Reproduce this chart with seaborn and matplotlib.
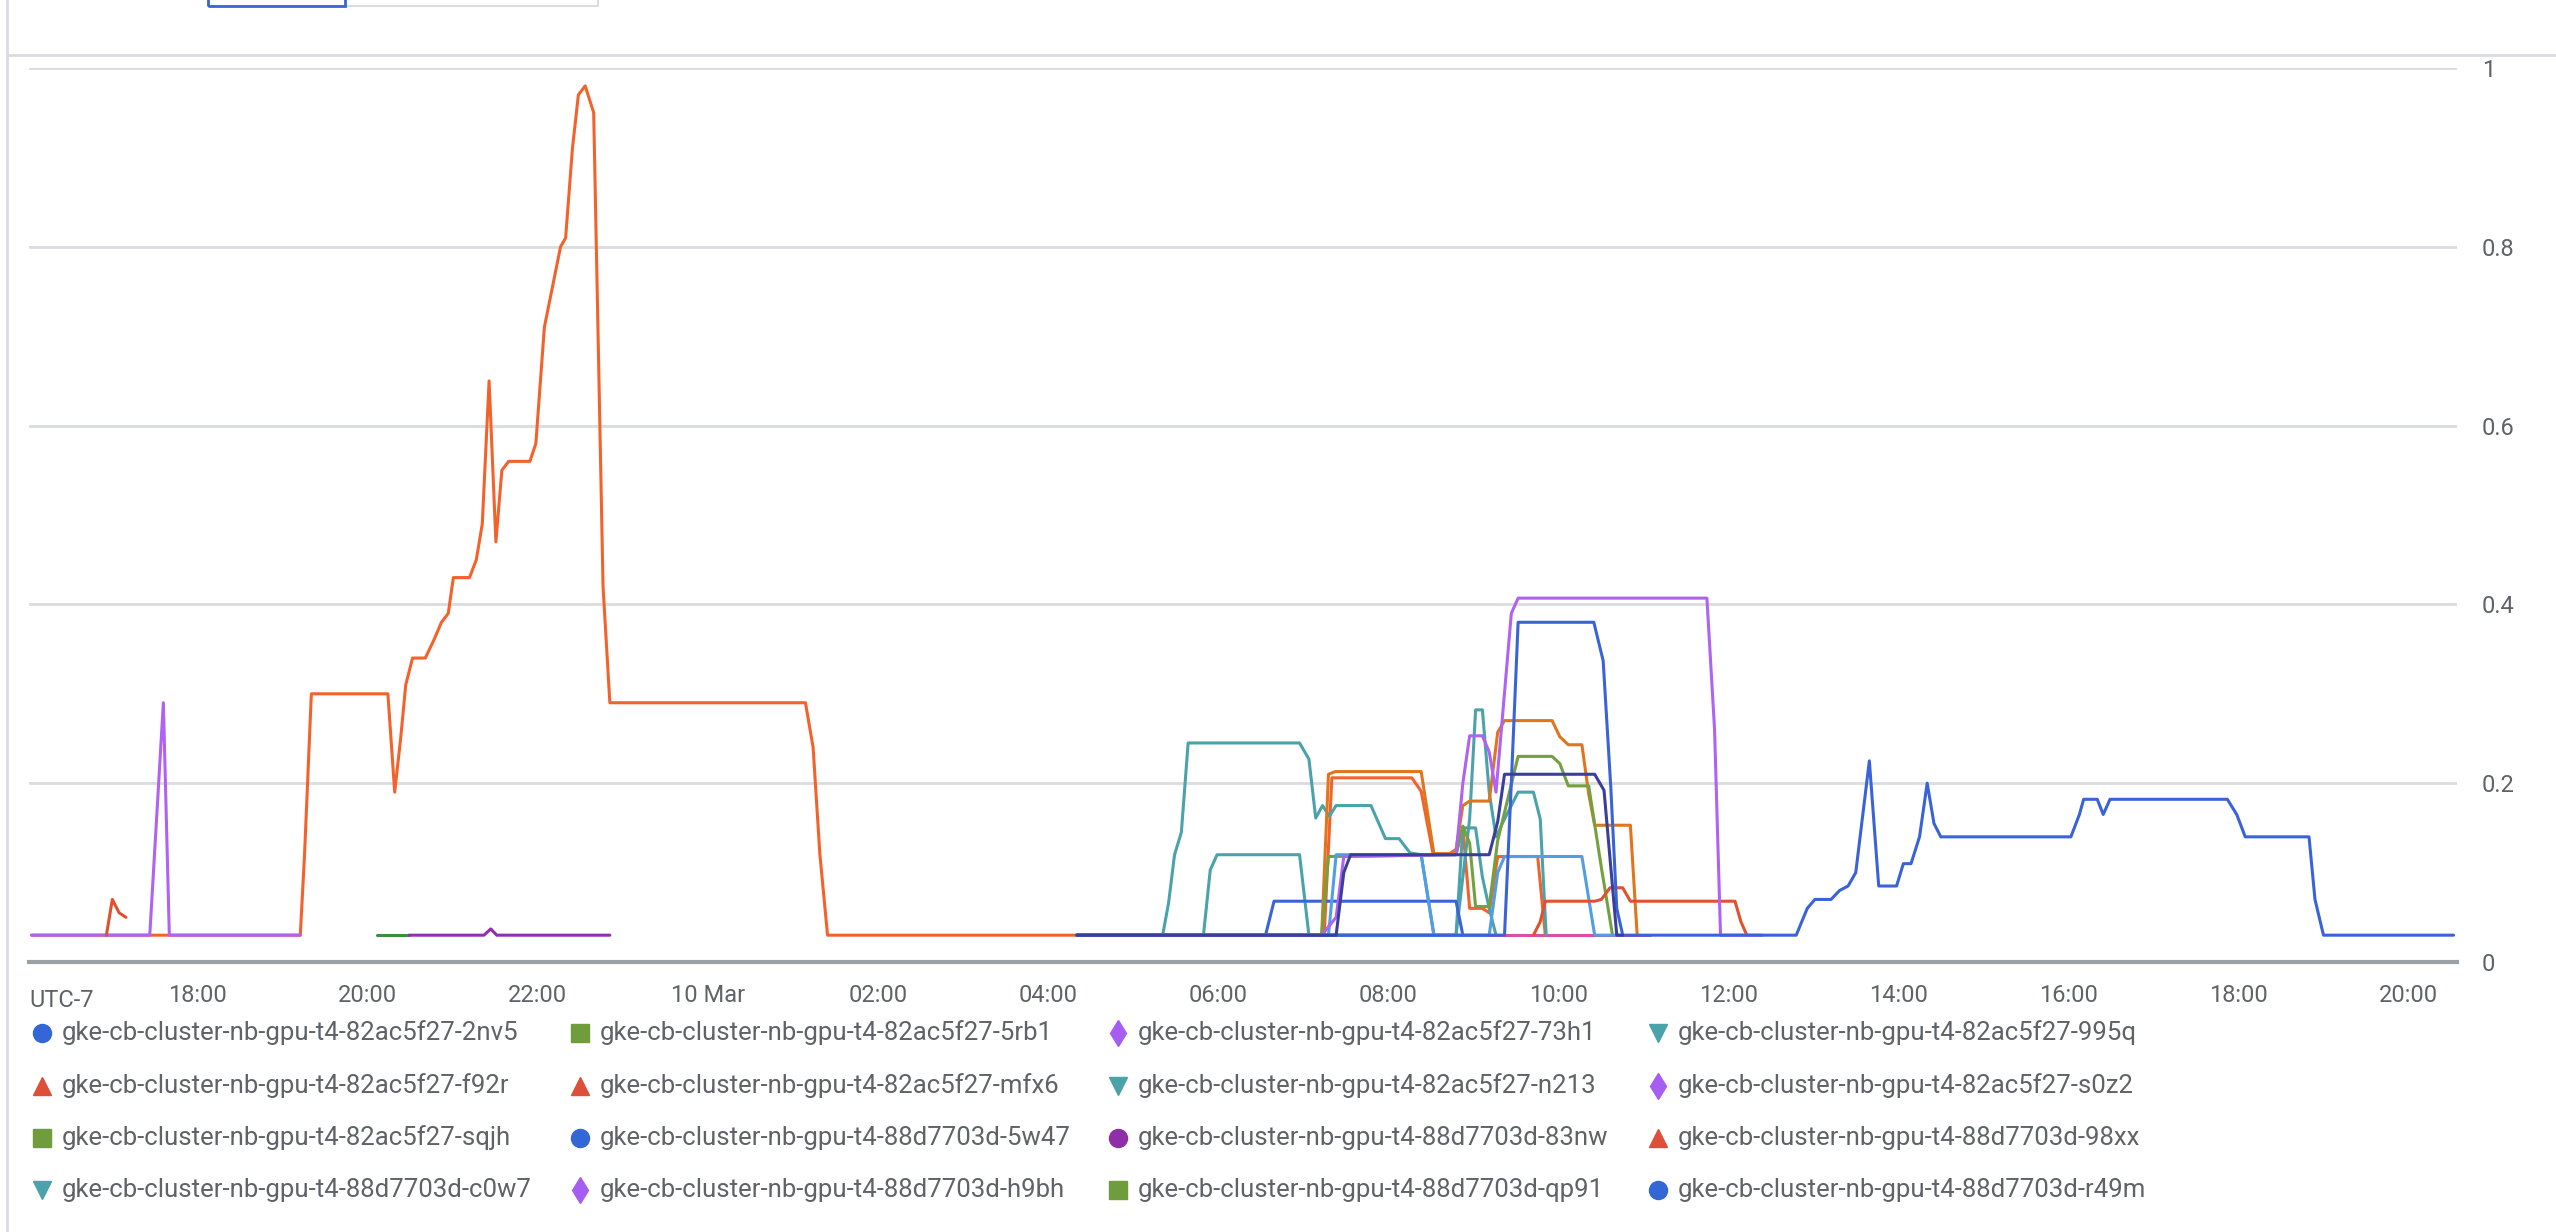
import pandas as pd
import numpy as np
import matplotlib
matplotlib.use("Agg")
import matplotlib.pyplot as plt
from matplotlib.lines import Line2D
from matplotlib.patches import Rectangle
import seaborn as sns

base = pd.Timestamp("2024-03-09")

# hours since 9 Mar 00:00 and utilisation values, per node
f92r_h = [16.05, 19.21, 19.26, 19.34, 20.24, 20.32, 20.39, 20.45, 20.53, 20.68, 20.78, 20.87, 20.95, 21.01,
          21.20, 21.28, 21.35, 21.43, 21.51, 21.58, 21.66, 21.91, 21.98, 22.08, 22.27, 22.33, 22.41, 22.48,
          22.56, 22.66, 22.77, 22.85, 25.15, 25.24, 25.32, 25.41, 28.34,
          31.25, 31.34, 32.28, 32.39, 32.53, 32.80, 32.88, 32.96, 33.11, 33.19, 33.29, 33.76, 33.85]
f92r_v = [0.03, 0.03, 0.12, 0.30, 0.30, 0.19, 0.25, 0.31, 0.34, 0.34, 0.36, 0.38, 0.39, 0.43,
          0.43, 0.45, 0.49, 0.65, 0.47, 0.55, 0.56, 0.56, 0.58, 0.71, 0.80, 0.81, 0.91, 0.97,
          0.98, 0.95, 0.42, 0.29, 0.29, 0.24, 0.12, 0.03, 0.03,
          0.03, 0.206, 0.206, 0.191, 0.121, 0.121, 0.15, 0.06, 0.06, 0.055, 0.118, 0.118, 0.03]

mfx6_early_h = [16.93, 17.00, 17.08, 17.16]
mfx6_early_v = [0.03, 0.07, 0.055, 0.05]
mfx6_h = [31.22, 31.30, 31.38, 32.39, 32.54, 32.72, 32.80, 32.88, 32.96, 33.19, 33.29, 33.37, 33.93,
          34.02, 34.12, 34.28, 34.36, 34.43, 34.85, 34.93]
mfx6_v = [0.03, 0.21, 0.213, 0.213, 0.121, 0.121, 0.126, 0.175, 0.18, 0.18, 0.257, 0.27, 0.27,
          0.252, 0.243, 0.243, 0.188, 0.153, 0.153, 0.03]

s0z2_h = [16.05, 17.44, 17.60, 17.67, 19.21]
s0z2_v = [0.03, 0.03, 0.29, 0.03, 0.03]

sqjh_h = [20.11, 20.49]
sqjh_v = [0.03, 0.03]

n83nw_h = [20.49, 21.37, 21.45, 21.52, 22.85]
n83nw_v = [0.03, 0.03, 0.037, 0.03, 0.03]

q995_h = [28.34, 29.35, 29.42, 29.49, 29.57, 29.65, 30.96, 31.07, 31.15, 31.23, 31.31, 31.39, 31.80,
          31.97, 32.13, 32.26, 32.39, 32.54]
q995_v = [0.03, 0.03, 0.066, 0.12, 0.145, 0.245, 0.245, 0.227, 0.161, 0.175, 0.163, 0.175, 0.175,
          0.138, 0.138, 0.122, 0.12, 0.03]

c0w7_h = [28.34, 29.83, 29.91, 29.99, 30.96, 31.07, 32.80, 32.96, 33.03, 33.11, 33.19, 33.27, 33.37,
          33.53, 33.71, 33.79, 33.86]
c0w7_v = [0.03, 0.03, 0.103, 0.12, 0.12, 0.03, 0.03, 0.16, 0.282, 0.282, 0.19, 0.14, 0.16,
          0.19, 0.19, 0.16, 0.03]

n213_h = [28.34, 32.80, 32.88, 33.03, 33.11, 33.19, 33.27]
n213_v = [0.03, 0.03, 0.15, 0.15, 0.095, 0.06, 0.03]

w47_h = [28.34, 30.56, 30.66, 32.80, 32.88]
w47_v = [0.03, 0.03, 0.068, 0.068, 0.03]

rb1_h = [28.34, 31.22, 31.30, 32.80, 32.88, 32.96, 33.03, 33.19, 33.29, 33.53, 33.93, 34.02, 34.12,
         34.36, 34.51, 34.64]
rb1_v = [0.03, 0.03, 0.118, 0.12, 0.152, 0.133, 0.062, 0.062, 0.136, 0.23, 0.23, 0.222, 0.197,
         0.197, 0.105, 0.03]

qp91_h = [28.34, 31.39, 31.48, 31.56, 33.19, 33.29, 33.37, 34.43, 34.54, 34.69, 34.76]
qp91_v = [0.03, 0.03, 0.10, 0.12, 0.12, 0.157, 0.21, 0.21, 0.192, 0.03, 0.03]

nv5_h = [28.34, 31.30, 31.39, 32.39, 32.54, 33.19, 33.29, 33.37, 34.28, 34.43, 34.76]
nv5_v = [0.03, 0.03, 0.12, 0.12, 0.03, 0.03, 0.10, 0.118, 0.118, 0.03, 0.03]

h73_h = [28.34, 31.22, 31.39, 31.48, 32.80, 32.88, 32.96, 33.11, 33.19, 33.27, 33.45, 33.53, 35.75,
         35.84, 35.91, 36.40]
h73_v = [0.03, 0.03, 0.05, 0.118, 0.12, 0.20, 0.253, 0.253, 0.235, 0.19, 0.39, 0.407, 0.407,
         0.26, 0.03, 0.03]

h9bh_h = [31.39, 35.08]
h9bh_v = [0.03, 0.03]

xx98_h = [33.71, 33.79, 33.85, 34.43, 34.51, 34.61, 34.76, 34.85, 36.08, 36.15, 36.22]
xx98_v = [0.03, 0.045, 0.068, 0.068, 0.07, 0.083, 0.083, 0.068, 0.068, 0.045, 0.03]

r49m_h = [28.34, 33.37, 33.45, 33.53, 34.42, 34.53, 34.62, 34.69, 34.76, 36.80, 36.93, 37.02, 37.21,
          37.31, 37.41, 37.50, 37.66, 37.77, 37.98, 38.06, 38.15, 38.25, 38.34, 38.42, 38.50, 40.03,
          40.13, 40.18, 40.34, 40.41, 40.49, 41.87, 41.98, 42.08, 42.83, 42.90, 43.00, 44.53]
r49m_v = [0.03, 0.03, 0.20, 0.38, 0.38, 0.337, 0.195, 0.06, 0.03, 0.03, 0.06, 0.07, 0.07,
          0.08, 0.085, 0.10, 0.225, 0.085, 0.085, 0.11, 0.11, 0.14, 0.20, 0.155, 0.14, 0.14,
          0.165, 0.182, 0.182, 0.165, 0.182, 0.182, 0.165, 0.14, 0.14, 0.07, 0.03, 0.03]

lines = [
    (h9bh_h, h9bh_v, "#d94fa5"),
    (f92r_h, f92r_v, "#f4622b"),
    (s0z2_h, s0z2_v, "#b062f2"),
    (mfx6_early_h, mfx6_early_v, "#e0522f"),
    (sqjh_h, sqjh_v, "#3d8c40"),
    (n83nw_h, n83nw_v, "#9030b0"),
    (q995_h, q995_v, "#4aa2ab"),
    (c0w7_h, c0w7_v, "#4aa2ab"),
    (n213_h, n213_v, "#4aa2ab"),
    (w47_h, w47_v, "#3b63d9"),
    (mfx6_h, mfx6_v, "#e0761c"),
    (rb1_h, rb1_v, "#73a13f"),
    (nv5_h, nv5_v, "#4f9ee6"),
    (xx98_h, xx98_v, "#e0522f"),
    (h73_h, h73_v, "#b062f2"),
    (r49m_h, r49m_v, "#3b63d9"),
    (qp91_h, qp91_v, "#3b3f9c"),
]

legend_labels = [
    "gke-cb-cluster-nb-gpu-t4-82ac5f27-2nv5", "gke-cb-cluster-nb-gpu-t4-82ac5f27-5rb1",
    "gke-cb-cluster-nb-gpu-t4-82ac5f27-73h1", "gke-cb-cluster-nb-gpu-t4-82ac5f27-995q",
    "gke-cb-cluster-nb-gpu-t4-82ac5f27-f92r", "gke-cb-cluster-nb-gpu-t4-82ac5f27-mfx6",
    "gke-cb-cluster-nb-gpu-t4-82ac5f27-n213", "gke-cb-cluster-nb-gpu-t4-82ac5f27-s0z2",
    "gke-cb-cluster-nb-gpu-t4-82ac5f27-sqjh", "gke-cb-cluster-nb-gpu-t4-88d7703d-5w47",
    "gke-cb-cluster-nb-gpu-t4-88d7703d-83nw", "gke-cb-cluster-nb-gpu-t4-88d7703d-98xx",
    "gke-cb-cluster-nb-gpu-t4-88d7703d-c0w7", "gke-cb-cluster-nb-gpu-t4-88d7703d-h9bh",
    "gke-cb-cluster-nb-gpu-t4-88d7703d-qp91", "gke-cb-cluster-nb-gpu-t4-88d7703d-r49m",
]
legend_markers = ["o", "s", "d", "v", "^", "^", "v", "d", "s", "o", "o", "^", "v", "d", "s", "o"]
legend_colors = ["#3367d6", "#6f9c3c", "#a65ef2", "#4aa2ab", "#dd4f38", "#dd4f38", "#4aa2ab", "#a65ef2",
                 "#6f9c3c", "#3367d6", "#8e2fa8", "#dd4f38", "#4aa2ab", "#a65ef2", "#6f9c3c", "#3367d6"]

sns.set_style("white")
plt.rcParams['font.family'] = ['Roboto', 'DejaVu Sans']
fig = plt.figure(figsize=(25.56, 12.32), dpi=100)
ax = fig.add_axes([29 / 2556, 270 / 1232, 2428 / 2556, 894 / 1232])

for hrs, vals, col in lines:
    t = base + pd.to_timedelta(np.array(hrs), unit="h")
    sns.lineplot(x=t, y=vals, color=col, linewidth=2.2, ax=ax, estimator=None, sort=False)

ax.set_xlim(base + pd.Timedelta(hours=16.02), base + pd.Timedelta(hours=44.57))
ax.set_ylim(0, 1)
ax.set_xlabel("")
ax.set_ylabel("")
for s in ["top", "left", "right"]:
    ax.spines[s].set_visible(False)
ax.spines["bottom"].set_color("#9aa0a6")
ax.spines["bottom"].set_linewidth(3)

ax.yaxis.tick_right()
ax.set_yticks([0, 0.2, 0.4, 0.6, 0.8, 1])
ax.set_yticklabels(["0", "0.2", "0.4", "0.6", "0.8", "1"])
ax.grid(axis="y", color="#dadce0", linewidth=2)
ax.tick_params(axis="y", length=0, pad=18, labelsize=17, labelcolor="#5f6368")

tick_times = [base + pd.Timedelta(hours=h) for h in range(18, 45, 2)]
ax.set_xticks(tick_times)
ax.set_xticklabels(["10 Mar" if t.hour == 0 else t.strftime("%H:%M") for t in tick_times])
ax.tick_params(axis="x", length=12, width=1.5, color="#9aa0a6", labelsize=17, labelcolor="#5f6368", pad=4)
ax.text(0, -0.03, "UTC-7", transform=ax.transAxes, ha="left", va="top", fontsize=17, color="#5f6368")

# legend grid
col_x = [42, 580, 1118, 1658]
row_y = [1033, 1086, 1138, 1190]
for i, lab in enumerate(legend_labels):
    cx = col_x[i % 4] / 2556
    cy = 1 - row_y[i // 4] / 1232
    fig.add_artist(Line2D([cx], [cy], marker=legend_markers[i], color=legend_colors[i],
                          markersize=13, linestyle="", transform=fig.transFigure))
    fig.text(cx + 20 / 2556, cy, lab, ha="left", va="center", fontsize=18.5, color="#5f6368")

# page chrome
fig.add_artist(Line2D([7 / 2556, 7 / 2556], [0, 1], color="#dadce0", linewidth=2, transform=fig.transFigure))
fig.add_artist(Line2D([7 / 2556, 1], [1 - 55 / 1232, 1 - 55 / 1232], color="#dadce0", linewidth=2,
                      transform=fig.transFigure))
fig.add_artist(Rectangle((208 / 2556, 1 - 6 / 1232), 390 / 2556, 10 / 1232, fill=False,
                         edgecolor="#dadce0", linewidth=1.5, transform=fig.transFigure))
fig.add_artist(Rectangle((208 / 2556, 1 - 6 / 1232), 137 / 2556, 10 / 1232, fill=False,
                         edgecolor="#3b63d9", linewidth=2, transform=fig.transFigure))

fig.savefig("out.png", dpi=100)
